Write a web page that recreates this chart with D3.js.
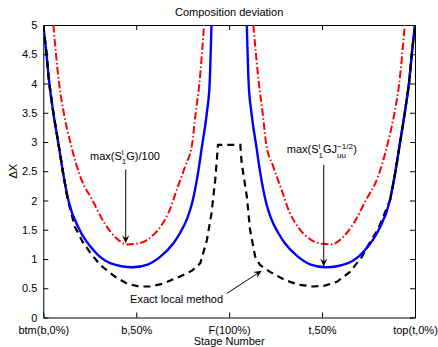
<!DOCTYPE html>
<html><head><meta charset="utf-8">
<script src="https://cdn.jsdelivr.net/npm/d3@7"></script>
<style>
html,body{margin:0;padding:0;background:#fff;}
text{font-family:"Liberation Sans",Arial,Helvetica,sans-serif;}
</style></head>
<body><svg id="chart" width="438" height="347"></svg>
<script>
// ---------------- data ----------------
const xTickValues = [0, 1, 2, 3, 4];
const xTickLabels = ["btm(b,0%)", "b,50%", "F(100%)", "t,50%", "top(t,0%)"];
const yTickValues = [0, 0.5, 1, 1.5, 2, 2.5, 3, 3.5, 4, 4.5, 5];

// max(S1 G J^-1/2) : blue solid, two branches
const blueLeft = [[0,5],[0.03,4.57],[0.065,4.0],[0.108,3.5],[0.17,2.9],[0.21,2.5],[0.27,2.0],[0.39,1.5],[0.54,1.15],[0.72,0.93],[0.96,0.86],[1.13,0.91],[1.26,1.04],[1.40,1.27],[1.47,1.44],[1.55,1.70],[1.60,1.95],[1.67,2.52],[1.705,2.9],[1.76,3.5],[1.79,4.0],[1.81,5]];
const blueRight = [[2.19,5],[2.21,4.0],[2.24,3.5],[2.295,2.9],[2.33,2.52],[2.40,1.95],[2.45,1.70],[2.53,1.44],[2.60,1.27],[2.74,1.04],[2.87,0.91],[3.04,0.86],[3.28,0.93],[3.46,1.15],[3.61,1.5],[3.73,2.0],[3.79,2.5],[3.83,2.9],[3.89,3.5],[3.935,4.0],[3.97,4.57],[4.0,5]];

// max(S1 G)/100 : red dash-dot
const redLeft = [[0.108,5],[0.17,4.0],[0.22,3.5],[0.29,3.0],[0.40,2.4],[0.53,2.0],[0.66,1.61],[0.79,1.35],[0.90,1.25],[1.00,1.26],[1.11,1.32],[1.26,1.55],[1.35,1.80],[1.44,2.2],[1.53,2.6],[1.60,2.95],[1.64,3.5],[1.68,4.0],[1.73,5]];
const redRight = [[2.26,5],[2.32,4.0],[2.36,3.5],[2.40,2.95],[2.47,2.6],[2.56,2.2],[2.65,1.80],[2.74,1.55],[2.89,1.32],[3.00,1.26],[3.10,1.25],[3.21,1.35],[3.34,1.61],[3.47,2.0],[3.60,2.4],[3.71,3.0],[3.78,3.5],[3.83,4.0],[3.89,5]];

// Exact local method : black dashed
const exact = [[0,5],[0.03,4.57],[0.065,4.0],[0.108,3.5],[0.17,2.9],[0.21,2.5],[0.265,2.0],[0.34,1.55],[0.42,1.3],[0.50,1.12],[0.61,0.90],[0.77,0.70],[0.90,0.58],[1.03,0.53],[1.15,0.53],[1.29,0.58],[1.47,0.70],[1.60,0.80],[1.69,0.93],[1.76,1.32],[1.81,1.78],[1.85,2.35],[1.88,2.95],[2.12,2.95],[2.135,2.64],[2.19,2.07],[2.225,1.50],[2.28,1.04],[2.33,0.90],[2.44,0.78],[2.60,0.64],[2.75,0.56],[2.90,0.53],[3.02,0.54],[3.16,0.61],[3.30,0.78],[3.43,1.04],[3.52,1.30],[3.60,1.5],[3.73,2.0],[3.79,2.5],[3.83,2.9],[3.89,3.5],[3.935,4.0],[3.97,4.57],[4.0,5]];

// annotation anchors (data coordinates)
const ann1 = {textX: 0.503, textY: 2.70, from: [0.887, 2.53], to: [0.887, 1.27]};
const ann2 = {textX: 2.62, textY: 2.81, from: [3.018, 2.61], to: [3.018, 0.87]};
const ann3 = {textX: 0.934, textY: 0.25, from: [1.974, 0.41], to: [2.35, 0.80]};

// ---------------- layout ----------------
const svg = d3.select("#chart");
const m = {left: 43.3, right: 415, top: 25, bottom: 317.5};
const x = d3.scaleLinear().domain([0, 4]).range([m.left, m.right]);
const y = d3.scaleLinear().domain([0, 5]).range([m.bottom, m.top]);

svg.append("defs").append("clipPath").attr("id", "clip")
  .append("rect").attr("x", m.left).attr("y", m.top)
  .attr("width", m.right - m.left).attr("height", m.bottom - m.top);

// axes (MATLAB-like box with inward ticks)
const tickLen = 5;
const gx = svg.append("g").attr("transform", `translate(0,${m.bottom})`)
  .call(d3.axisBottom(x).tickValues(xTickValues).tickFormat((d, i) => xTickLabels[i])
    .tickSizeInner(-tickLen).tickSizeOuter(0).tickPadding(8));
const gxt = svg.append("g").attr("transform", `translate(0,${m.top})`)
  .call(d3.axisTop(x).tickValues(xTickValues).tickFormat("").tickSizeInner(-tickLen).tickSizeOuter(0));
const gy = svg.append("g").attr("transform", `translate(${m.left},0)`)
  .call(d3.axisLeft(y).tickValues(yTickValues).tickFormat(d3.format("~g"))
    .tickSizeInner(-tickLen).tickSizeOuter(0).tickPadding(6));
const gyr = svg.append("g").attr("transform", `translate(${m.right},0)`)
  .call(d3.axisRight(y).tickValues(yTickValues).tickFormat("").tickSizeInner(-tickLen).tickSizeOuter(0));
[gx, gxt, gy, gyr].forEach(g => {
  g.selectAll(".domain").attr("stroke", "#000").attr("stroke-width", 1);
  g.selectAll(".tick line").attr("stroke", "#000").attr("stroke-width", 1);
  g.selectAll("text").attr("font-size", 11).attr("fill", "#000")
    .attr("font-family", "Liberation Sans, Arial, sans-serif");
});
gx.selectAll(".tick text").attr("dy", "0.75em");

// titles
svg.append("text").attr("x", (m.left + m.right) / 2).attr("y", 16)
  .attr("text-anchor", "middle").attr("font-size", 11).text("Composition deviation");
svg.append("text").attr("x", (m.left + m.right) / 2).attr("y", 345)
  .attr("text-anchor", "middle").attr("font-size", 11).text("Stage Number");
svg.append("text").attr("transform", `translate(17,${(m.top + m.bottom) / 2}) rotate(-90)`)
  .attr("text-anchor", "middle").attr("font-size", 11).text("ΔX");

// lines
const lineGen = d3.line().x(d => x(d[0])).y(d => y(d[1])).curve(d3.curveMonotoneX);
const lineLin = d3.line().x(d => x(d[0])).y(d => y(d[1])).curve(d3.curveLinear);
const plot = svg.append("g").attr("clip-path", "url(#clip)");
const blackStyle = p => p.attr("fill", "none").attr("stroke", "#000").attr("stroke-width", 2.2).attr("stroke-dasharray", "7,5");

plot.append("path").attr("d", lineLin(exact)).call(blackStyle);
[redLeft, redRight].forEach(s => plot.append("path").attr("d", lineGen(s)).attr("fill", "none")
  .attr("stroke", "#ff0000").attr("stroke-width", 2).attr("stroke-dasharray", "7.5,2.5,1.5,2.5"));
[blueLeft, blueRight].forEach(s => plot.append("path").attr("d", lineGen(s)).attr("fill", "none")
  .attr("stroke", "#0000ff").attr("stroke-width", 2.4));
// redraw black over blue on the shared outer parts (separate pieces)
plot.append("path").attr("d", lineLin(exact.filter(d => d[0] < 0.3))).call(blackStyle);
const rightPart = exact.filter(d => d[0] > 3.7);
plot.append("path").attr("d", lineLin(rightPart)).call(blackStyle);

// annotations
function arrow(a) {
  const x1 = x(a.from[0]), y1 = y(a.from[1]), x2 = x(a.to[0]), y2 = y(a.to[1]);
  const ang = Math.atan2(y2 - y1, x2 - x1);
  svg.append("line").attr("x1", x1).attr("y1", y1).attr("x2", x2 - 3 * Math.cos(ang)).attr("y2", y2 - 3 * Math.sin(ang))
    .attr("stroke", "#000").attr("stroke-width", 1);
  const L = 8, W = 3.6, N = 5;
  const c = Math.cos(ang), s = Math.sin(ang);
  const p = (u, v) => [x2 - u * c + v * s, y2 - u * s - v * c];
  const pts = [p(0, 0), p(L, W), p(N, 0), p(L, -W)];
  svg.append("path").attr("d", "M" + pts.map(q => q.join(",")).join("L") + "Z").attr("fill", "#000");
}
// stacked superscript / subscript; returns extra advance needed so the next text clears both
function supsub(t, sup, sub, fs) {
  const a = t.append("tspan").attr("font-size", fs).attr("dy", -4.5).text(sup);
  const w = a.node().getComputedTextLength();
  const b = t.append("tspan").attr("font-size", fs).attr("dx", -w).attr("dy", 9).text(sub);
  const w2 = b.node().getComputedTextLength();
  return Math.max(0, w - w2);
}
const t1 = svg.append("text").attr("x", x(ann1.textX)).attr("y", y(ann1.textY)).attr("font-size", 11);
t1.append("tspan").text("max(S");
let gap = supsub(t1, "l", "1", 8);
t1.append("tspan").attr("dy", -4.5).attr("dx", gap).text("G)/100");
arrow(ann1);

const t2 = svg.append("text").attr("x", x(ann2.textX)).attr("y", y(ann2.textY)).attr("font-size", 11);
t2.append("tspan").text("max(S");
gap = supsub(t2, "l", "1", 8);
t2.append("tspan").attr("dy", -4.5).attr("dx", gap).text("GJ");
gap = supsub(t2, "−1/2", "uu", 8);
t2.append("tspan").attr("dy", -4.5).attr("dx", gap + 0.5).text(")");
arrow(ann2);

svg.append("text").attr("x", x(ann3.textX)).attr("y", y(ann3.textY)).attr("font-size", 11).text("Exact local method");
arrow(ann3);
</script></body></html>
